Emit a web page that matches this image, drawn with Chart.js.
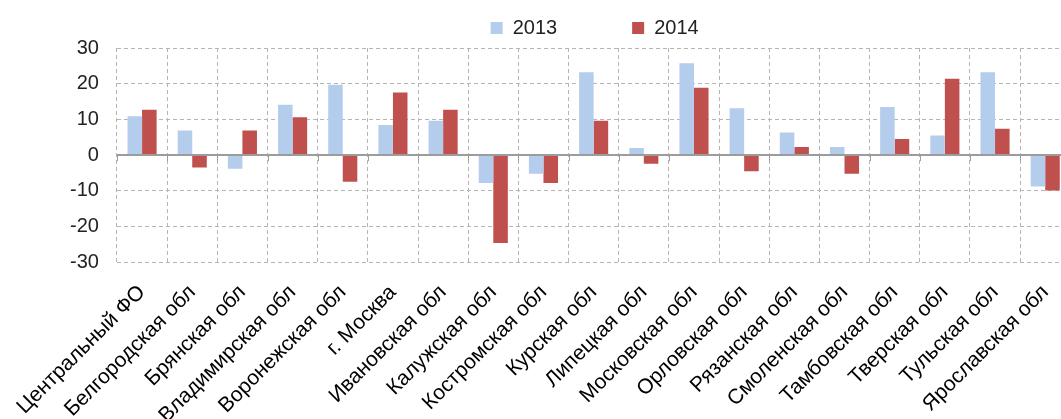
<!DOCTYPE html>
<html>
<head>
<meta charset="utf-8">
<script src="https://cdn.jsdelivr.net/npm/chart.js@4/dist/chart.umd.min.js"></script>
<style>
  html, body { margin: 0; padding: 0; background: #fff; overflow: hidden; }
  #wrap { position: relative; width: 1081px; height: 446px; }
</style>
</head>
<body>
<div id="wrap"><canvas id="c"></canvas></div>
<script>
const categories = ['Центральный ФО','Белгородская обл','Брянская обл','Владимирская обл','Воронежская обл','г. Москва','Ивановская обл','Калужская обл','Костромская обл','Курская обл','Липецкая обл','Московская обл','Орловская обл','Рязанская обл','Смоленская обл','Тамбовская обл','Тверская обл','Тульская обл','Ярославская обл'];
const values2013 = [10.9, 6.9, -3.8, 14.1, 19.7, 8.4, 9.6, -7.8, -5.2, 23.2, 2.0, 25.7, 13.1, 6.3, 2.3, 13.5, 5.5, 23.2, -8.8];
const values2014 = [12.7, -3.5, 6.9, 10.6, -7.5, 17.5, 12.7, -24.6, -7.8, 9.6, -2.4, 18.9, -4.5, 2.3, -5.2, 4.5, 21.4, 7.4, -9.9];
const seriesNames = ['2013', '2014'];
const yMin = -30, yMax = 30, yStep = 10;

const FONT = "'Liberation Sans', Arial, sans-serif";
const GRID = '#b5b5b5';

const customPlugin = {
  id: 'custom',
  afterLayout(chart) {
    const l = chart.legend, ca = chart.chartArea;
    if (l) { l.left = ca.left + 2; l.right = ca.right; }
  },
  afterDatasetsDraw(chart) {
    const ctx = chart.ctx, x = chart.scales.x, y = chart.scales.y, ca = chart.chartArea;
    const y0 = y.getPixelForValue(0);
    ctx.save();
    ctx.strokeStyle = '#9c9c9c';
    ctx.lineWidth = 1;
    const n = categories.length;
    for (let i = 0; i <= n; i++) {
      const xp = i === 0 ? ca.left : (i === n ? ca.right : (x.getPixelForValue(i - 1) + x.getPixelForValue(i)) / 2);
      ctx.beginPath();
      ctx.moveTo(Math.round(xp) + 0.5, y0);
      ctx.lineTo(Math.round(xp) + 0.5, y0 + 6);
      ctx.stroke();
    }
    ctx.lineWidth = 2;
    ctx.beginPath();
    ctx.moveTo(ca.left, Math.round(y0));
    ctx.lineTo(ca.right, Math.round(y0));
    ctx.stroke();
    ctx.restore();
  }
};

new Chart(document.getElementById('c'), {
  type: 'bar',
  data: {
    labels: categories,
    datasets: [
      { label: seriesNames[0], data: values2013, backgroundColor: '#b5cdec', borderWidth: 0, categoryPercentage: 0.58, barPercentage: 1.0 },
      { label: seriesNames[1], data: values2014, backgroundColor: '#c0504d', borderWidth: 0, categoryPercentage: 0.58, barPercentage: 1.0 }
    ]
  },
  options: {
    responsive: true,
    maintainAspectRatio: false,
    animation: false,
    layout: { padding: { top: -57, left: 0, right: 0, bottom: 0 } },
    plugins: {
      legend: {
        position: 'top',
        align: 'center',
        labels: {
          boxWidth: 12, boxHeight: 12, padding: 75,
          color: '#222',
          font: { family: FONT, size: 20 }
        }
      },
      tooltip: { enabled: false }
    },
    scales: {
      x: {
        type: 'category',
        grid: { offset: true, color: GRID, lineWidth: 1, drawTicks: false },
        border: { display: false, dash: [4, 3] },
        ticks: {
          autoSkip: false, maxRotation: 45, minRotation: 45,
          padding: 18, color: '#000',
          font: { family: FONT, size: 21 }
        }
      },
      y: {
        min: yMin, max: yMax,
        grid: { color: GRID, lineWidth: 1, drawTicks: false },
        border: { display: false, dash: [4, 3] },
        ticks: {
          stepSize: yStep, padding: 18, color: '#222',
          font: { family: FONT, size: 20 }
        },
        afterFit(s) { s.width = 116; }
      }
    }
  },
  plugins: [customPlugin]
});
</script>
</body>
</html>
